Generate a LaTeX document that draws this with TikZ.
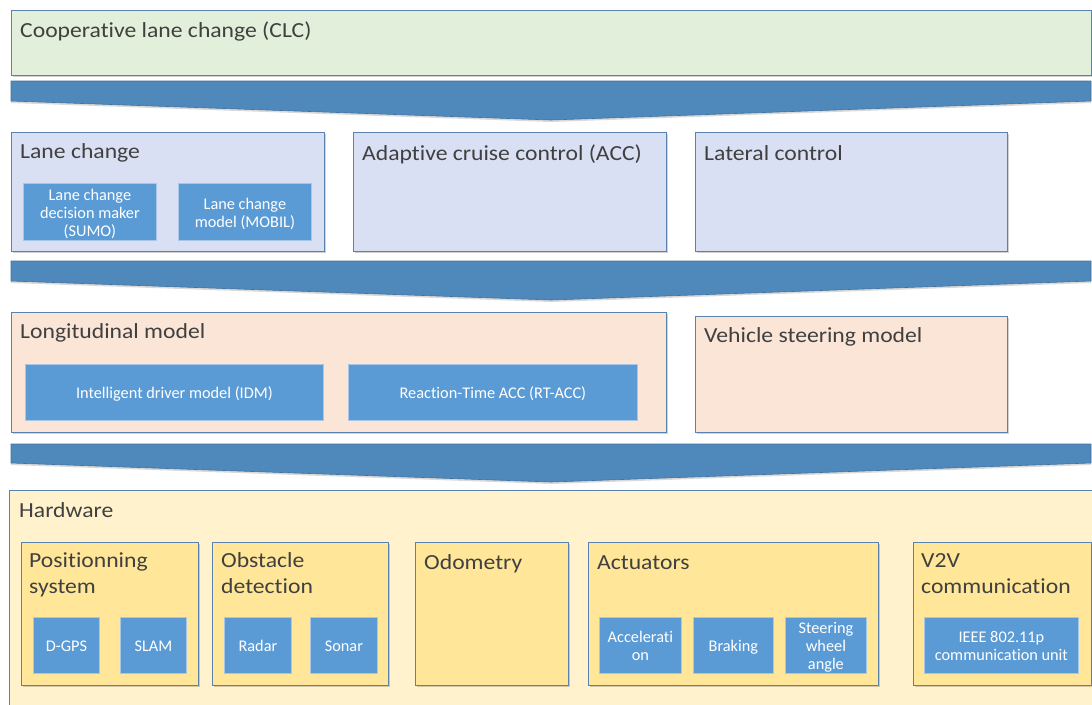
\documentclass[tikz,border=0pt]{standalone}
\usepackage{fontspec}
\setmainfont[Ligatures=NoCommon]{Carlito}
\newfontfamily\hdrfont[Ligatures=NoCommon, FakeStretch=1.1]{Carlito}
\usetikzlibrary{shadows}
\definecolor{edgeblue}{HTML}{5A82AE}
\definecolor{clcgreen}{HTML}{E2EFDA}
\definecolor{lavender}{HTML}{DAE0F3}
\definecolor{salmon}{HTML}{FBE5D6}
\definecolor{hwback}{HTML}{FFF2CC}
\definecolor{hwinner}{HTML}{FFE699}
\definecolor{bluefill}{HTML}{5B9BD5}
\definecolor{blueedge}{HTML}{A9C6E6}
\definecolor{chevfill}{HTML}{4F88BB}
\definecolor{chevedge}{HTML}{41719C}
\definecolor{txtgray}{HTML}{404040}
\newcommand{\btxt}[1]{\raisebox{-2.5pt}[\height][\depth]{\begin{tabular}{@{}c@{}}#1\end{tabular}}}
\begin{document}
\begin{tikzpicture}[x=1pt,y=-1pt,
  box/.style={draw=edgeblue, line width=0.8pt, anchor=north west, inner sep=0pt,
    drop shadow={shadow xshift=1.2pt, shadow yshift=-1.5pt, opacity=0.18, fill=black}},
  bluebox/.style={draw=blueedge, fill=bluefill, line width=0.8pt, anchor=north west,
    inner sep=0pt, text=white,
    font=\fontsize{16.3}{18}\selectfont,
    drop shadow={shadow xshift=1pt, shadow yshift=-1pt, opacity=0.15, fill=black}},
  hdr/.style={anchor=base west, inner sep=0pt, text=txtgray, align=left,
    font=\hdrfont\fontsize{21.5}{26}\selectfont},
  chev/.style={draw=chevedge, fill=chevfill, line width=0.6pt,
    drop shadow={shadow xshift=0pt, shadow yshift=-2pt, opacity=0.15, fill=black}}]
\useasboundingbox (0,0) rectangle (1092,704);

% Top layer
\node[box, fill=clcgreen, minimum width=1080, minimum height=65] (clc) at (11,10) {};
\node[hdr] (clct) at (20,37.5) {Cooperative lane change (CLC)};

% Chevron 1
\draw[chev] (11,81) -- (1091,81) -- (1091,101) -- (551,120) -- (11,101) -- cycle;

% Second layer
\node[box, fill=lavender, minimum width=313, minimum height=119] (lc) at (11,132) {};
\node[hdr] (lct) at (20,158) {Lane change};
\node[bluebox, minimum width=133, minimum height=57] (lcdm) at (23,183) {\btxt{Lane change\\decision maker\\(SUMO)}};
\node[bluebox, minimum width=133, minimum height=57] (lcm) at (178,183) {\btxt{Lane change\\model (MOBIL)}};

\node[box, fill=lavender, minimum width=313, minimum height=119] (acc) at (353,132) {};
\node[hdr] (acct) at (362,160) {Adaptive cruise control (ACC)};

\node[box, fill=lavender, minimum width=312, minimum height=119] (lat) at (695,132) {};
\node[hdr] (latt) at (704,160) {Lateral control};

% Chevron 2
\draw[chev] (11,261) -- (1091,261) -- (1091,281) -- (551,300) -- (11,281) -- cycle;

% Third layer
\node[box, fill=salmon, minimum width=655, minimum height=120] (lon) at (11,312) {};
\node[hdr] (lont) at (20,338) {Longitudinal model};
\node[bluebox, minimum width=298, minimum height=56] (idm) at (25,364) {\btxt{Intelligent driver model (IDM)}};
\node[bluebox, minimum width=289, minimum height=56] (rtacc) at (348,364) {\btxt{Reaction-Time ACC (RT-ACC)}};

\node[box, fill=salmon, minimum width=312, minimum height=116] (vsm) at (695,316) {};
\node[hdr] (vsmt) at (704,342) {Vehicle steering model};

% Chevron 3
\draw[chev] (11,444) -- (1091,444) -- (1091,463) -- (551,482) -- (11,463) -- cycle;

% Hardware layer
\node[box, fill=hwback, minimum width=1100, minimum height=230] (hw) at (9,490) {};
\node[hdr] (hwt) at (19,517) {Hardware};

\node[box, fill=hwinner, minimum width=177, minimum height=143] (pos) at (21,542) {};
\node[hdr] (post) at (29,593.5) {Positionning\\system};
\node[bluebox, minimum width=66, minimum height=56] (dgps) at (33,617) {\btxt{D-GPS}};
\node[bluebox, minimum width=66, minimum height=56] (slam) at (120,617) {\btxt{SLAM}};

\node[box, fill=hwinner, minimum width=176, minimum height=143] (obs) at (212,542) {};
\node[hdr] (obst) at (221,593.5) {Obstacle\\detection};
\node[bluebox, minimum width=67, minimum height=56] (radar) at (224,617) {\btxt{Radar}};
\node[bluebox, minimum width=67, minimum height=56] (sonar) at (310,617) {\btxt{Sonar}};

\node[box, fill=hwinner, minimum width=153, minimum height=143] (odo) at (415,542) {};
\node[hdr] (odot) at (424,569) {Odometry};

\node[box, fill=hwinner, minimum width=290, minimum height=143] (act) at (588,542) {};
\node[hdr] (actt) at (597,569) {Actuators};
\node[bluebox, minimum width=82, minimum height=56] (accel) at (599,617) {\btxt{Accelerati\\on}};
\node[bluebox, minimum width=80, minimum height=56] (brake) at (693,617) {\btxt{Braking}};
\node[bluebox, minimum width=81, minimum height=56] (steer) at (785,617) {\btxt{Steering\\wheel\\angle}};

\node[box, fill=hwinner, minimum width=178, minimum height=143] (v2v) at (913,542) {};
\node[hdr] (v2vt) at (921,593.5) {V2V\\communication};
\node[bluebox, minimum width=154, minimum height=56] (ieee) at (924,617) {\btxt{IEEE 802.11p\\communication unit}};
\end{tikzpicture}
\end{document}
